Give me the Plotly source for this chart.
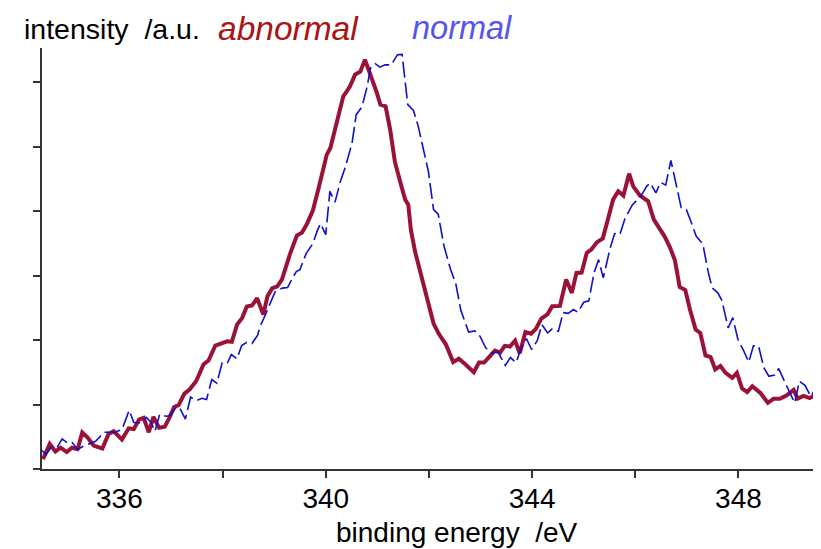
import plotly.graph_objects as go

# abnormal spectrum (binding energy / eV, intensity / a.u.)
abnormal_x = [334.52, 334.65, 334.76, 334.86, 334.98, 335.08, 335.19, 335.28, 335.38, 335.50,
              335.67, 335.79, 335.89, 336.05, 336.18, 336.28, 336.38, 336.47, 336.57, 336.66,
              336.77, 336.88, 336.97, 337.06, 337.15, 337.26, 337.36, 337.49, 337.63, 337.73,
              337.86, 338.00, 338.09, 338.18, 338.28, 338.38, 338.47, 338.57, 338.67, 338.79,
              338.87, 338.96, 339.06, 339.15, 339.26, 339.31, 339.44, 339.54, 339.63, 339.75,
              339.86, 339.95, 340.02, 340.09, 340.17, 340.27, 340.34, 340.41, 340.47, 340.57,
              340.67, 340.76, 340.88, 340.98, 341.06, 341.16, 341.25, 341.34, 341.44, 341.54,
              341.60, 341.65, 341.73, 341.83, 341.96, 342.09, 342.20, 342.33, 342.47, 342.58,
              342.71, 342.87, 342.97, 343.07, 343.21, 343.28, 343.38, 343.47, 343.57, 343.67,
              343.76, 343.87, 343.98, 344.07, 344.18, 344.30, 344.39, 344.54, 344.66, 344.77,
              344.86, 344.96, 345.06, 345.15, 345.26, 345.37, 345.46, 345.57, 345.67, 345.77,
              345.88, 345.96, 346.09, 346.25, 346.36, 346.47, 346.57, 346.67, 346.77, 346.86,
              346.97, 347.06, 347.17, 347.26, 347.36, 347.46, 347.55, 347.65, 347.75, 347.88,
              347.97, 348.07, 348.17, 348.27, 348.43, 348.57, 348.68, 348.80, 348.93, 349.07,
              349.15, 349.26, 349.38, 349.48, 349.57]
abnormal_y = [0.152, 0.388, 0.271, 0.330, 0.263, 0.329, 0.307, 0.566, 0.491, 0.364,
              0.318, 0.543, 0.586, 0.457, 0.631, 0.619, 0.767, 0.794, 0.570, 0.809,
              0.639, 0.656, 0.798, 0.961, 0.992, 1.170, 1.232, 1.364, 1.620, 1.687,
              1.915, 1.952, 1.981, 1.972, 2.240, 2.344, 2.519, 2.535, 2.651, 2.395,
              2.679, 2.801, 2.834, 2.938, 3.222, 3.341, 3.620, 3.667, 3.791, 4.008,
              4.349, 4.674, 4.876, 4.980, 5.237, 5.543, 5.780, 5.860, 5.935, 6.121,
              6.163, 6.349, 6.101, 5.860, 5.651, 5.625, 5.256, 4.767, 4.462, 4.178,
              4.101, 3.713, 3.377, 3.062, 2.690, 2.256, 2.085, 1.930, 1.659, 1.710,
              1.620, 1.501, 1.651, 1.651, 1.775, 1.837, 1.806, 1.910, 1.899, 1.992,
              1.794, 2.124, 2.098, 2.170, 2.333, 2.403, 2.524, 2.530, 2.938, 2.732,
              3.042, 3.046, 3.352, 3.408, 3.519, 3.577, 3.842, 4.178, 4.307, 4.240,
              4.581, 4.384, 4.243, 4.152, 3.868, 3.736, 3.605, 3.442, 3.233, 2.822,
              2.775, 2.473, 2.163, 2.112, 1.763, 1.736, 1.543, 1.598, 1.491, 1.414,
              1.491, 1.248, 1.194, 1.284, 1.175, 1.026, 1.088, 1.088, 1.139, 1.226,
              1.093, 1.135, 1.099, 1.147, 1.073]

# normal spectrum
normal_x = [334.50, 334.58, 334.68, 334.79, 334.89, 334.99, 335.08, 335.19, 335.29, 335.43,
            335.54, 335.70, 335.79, 335.92, 336.05, 336.19, 336.28, 336.41, 336.52, 336.61,
            336.69, 336.78, 336.91, 336.99, 337.08, 337.16, 337.28, 337.38, 337.50, 337.60,
            337.69, 337.79, 337.89, 337.99, 338.09, 338.17, 338.28, 338.37, 338.47, 338.57,
            338.68, 338.73, 338.84, 338.92, 339.02, 339.16, 339.26, 339.36, 339.43, 339.50,
            339.62, 339.75, 339.84, 339.90, 340.00, 340.08, 340.18, 340.28, 340.38, 340.51,
            340.59, 340.70, 340.80, 340.87, 340.96, 341.05, 341.15, 341.27, 341.39, 341.48,
            341.59, 341.70, 341.79, 341.89, 341.99, 342.09, 342.18, 342.29, 342.42, 342.52,
            342.62, 342.77, 342.89, 342.99, 343.10, 343.22, 343.34, 343.48, 343.58, 343.69,
            343.78, 343.89, 343.99, 344.10, 344.19, 344.30, 344.39, 344.51, 344.60, 344.70,
            344.80, 344.89, 345.00, 345.10, 345.20, 345.29, 345.38, 345.51, 345.60, 345.70,
            345.80, 345.94, 346.12, 346.22, 346.29, 346.40, 346.49, 346.59, 346.69, 346.89,
            346.99, 347.09, 347.18, 347.31, 347.41, 347.49, 347.60, 347.68, 347.80, 347.89,
            347.99, 348.09, 348.20, 348.29, 348.39, 348.49, 348.59, 348.70, 348.78, 348.92,
            349.09, 349.18, 349.29, 349.40, 349.49, 349.59]
normal_y = [0.287, 0.225, 0.341, 0.329, 0.468, 0.406, 0.415, 0.302, 0.349, 0.388,
            0.431, 0.570, 0.574, 0.574, 0.612, 0.912, 0.721, 0.716, 0.801, 0.729,
            0.586, 0.845, 0.818, 0.829, 0.938, 0.961, 0.775, 1.116, 1.062, 1.096,
            1.077, 1.388, 1.332, 1.643, 1.636, 1.775, 1.708, 1.915, 1.966, 1.946,
            2.077, 2.214, 2.411, 2.577, 2.752, 2.806, 2.814, 2.969, 3.062, 3.093,
            3.341, 3.496, 3.705, 3.806, 3.636, 4.307, 4.139, 4.450, 4.682, 5.057,
            5.496, 5.612, 5.922, 6.220, 6.287, 6.233, 6.271, 6.267, 6.426, 6.431,
            5.651, 5.561, 5.326, 4.969, 4.612, 4.023, 3.953, 3.465, 3.093, 2.876,
            2.457, 2.124, 2.142, 2.059, 1.879, 1.801, 1.814, 1.608, 1.729, 1.651,
            1.853, 2.023, 1.853, 1.992, 2.240, 2.112, 2.174, 2.136, 2.426, 2.415,
            2.473, 2.431, 2.586, 2.609, 3.042, 3.248, 2.964, 3.419, 3.651, 3.636,
            3.884, 4.093, 4.248, 4.384, 4.437, 4.282, 4.446, 4.403, 4.788, 4.054,
            4.023, 3.817, 3.612, 3.488, 3.067, 2.809, 2.732, 2.612, 2.189, 2.349,
            2.008, 1.853, 1.659, 1.910, 1.907, 1.574, 1.439, 1.457, 1.558, 1.310,
            1.026, 1.361, 1.298, 1.129, 1.237, 1.155]

x_tickvals = [336, 338, 340, 342, 344, 346, 348]
x_ticktext = ["336", "", "340", "", "344", "", "348"]
y_tickvals = [0, 1, 2, 3, 4, 5, 6]

FONT = "Liberation Sans, Arial, Helvetica, sans-serif"

fig = go.Figure()
fig.add_trace(go.Scatter(x=abnormal_x, y=abnormal_y, mode="lines",
                         line=dict(color="#9A1238", width=4), name="abnormal"))
fig.add_trace(go.Scatter(x=normal_x, y=normal_y, mode="lines",
                         line=dict(color="#1010C8", width=1.6, dash="16px,5px"), name="normal"))

# the page body keeps its default 8px margin, so the figure is sized to fit the window
fig.update_layout(
    width=813, height=541,
    margin=dict(l=34, r=0, t=40, b=80, autoexpand=False),
    paper_bgcolor="white", plot_bgcolor="white",
    showlegend=False,
    font=dict(family=FONT, color="black"),
    xaxis=dict(range=[334.5, 349.6], tickvals=x_tickvals, ticktext=x_ticktext,
               ticks="outside", ticklen=7, tickwidth=2, tickcolor="#333",
               showline=True, linecolor="#333", linewidth=2, showgrid=False,
               zeroline=False, automargin=False, ticklabelstandoff=-4,
               tickfont=dict(size=28, family=FONT, color="black")),
    yaxis=dict(range=[0, 6.53], tickvals=y_tickvals, showticklabels=False,
               ticks="outside", ticklen=7, tickwidth=2, tickcolor="#333",
               showline=True, linecolor="#333", linewidth=2, showgrid=False,
               zeroline=False, automargin=False),
    annotations=[
        dict(text="intensity  /a.u.", xref="paper", yref="paper",
             x=-0.0263, y=1.045, xanchor="left", yanchor="middle", showarrow=False,
             font=dict(size=28.5, family=FONT, color="black")),
        dict(text="<i>abnormal</i>", xref="paper", yref="paper",
             x=0.224, y=1.047, xanchor="left", yanchor="middle", showarrow=False,
             font=dict(size=33.5, family=FONT, color="#A81414")),
        dict(text="<i>normal</i>", xref="paper", yref="paper",
             x=0.4718, y=1.047, xanchor="left", yanchor="middle", showarrow=False,
             font=dict(size=32.5, family=FONT, color="#5555EE")),
        dict(text="binding energy  /eV", xref="paper", yref="paper",
             x=(456.5 - 42) / 779, y=-0.15, xanchor="center", yanchor="middle", showarrow=False,
             font=dict(size=28, family=FONT, color="black")),
    ],
)

fig.write_html("out.html")
